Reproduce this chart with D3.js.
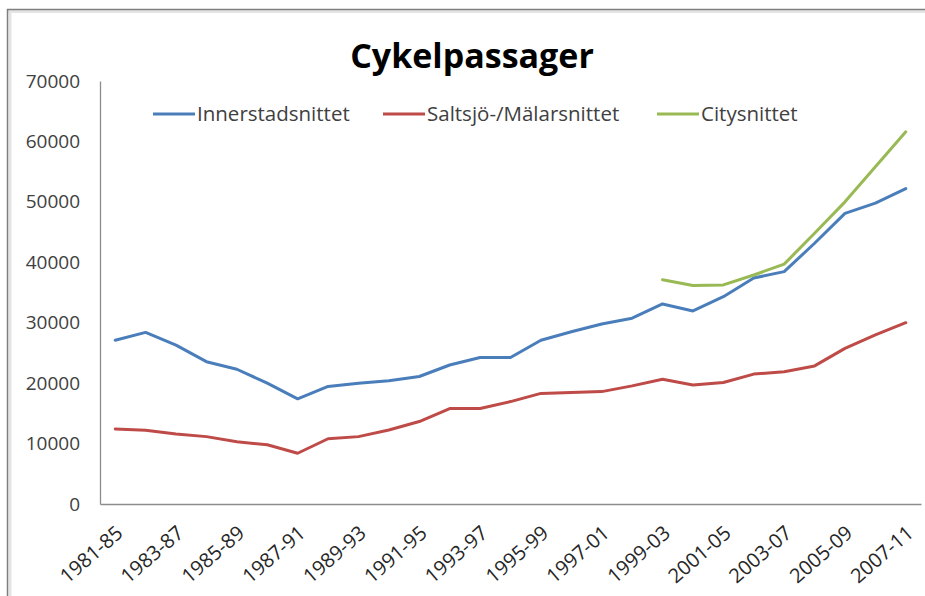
<!DOCTYPE html>
<html>
<head>
<meta charset="utf-8">
<script src="https://cdn.jsdelivr.net/npm/d3@7"></script>
<style>
html,body{margin:0;padding:0;background:#fff;}
svg{display:block;}
</style>
</head>
<body>
<svg id="chart" width="925" height="596"></svg>
<script>
const categories = ["1981-85","1982-86","1983-87","1984-88","1985-89","1986-90","1987-91","1988-92","1989-93","1990-94","1991-95","1992-96","1993-97","1994-98","1995-99","1996-00","1997-01","1998-02","1999-03","2000-04","2001-05","2002-06","2003-07","2004-08","2005-09","2006-10","2007-11"];
const innerstad = [27100,28400,26300,23550,22300,20000,17400,19450,20000,20400,21100,23000,24250,24250,27100,28500,29800,30750,33100,31950,34300,37400,38450,43150,48100,49800,52200];
const saltsjo = [12400,12200,11600,11150,10300,9800,8400,10800,11150,12250,13650,15800,15800,16950,18300,18450,18600,19550,20650,19700,20100,21500,21900,22850,25750,28000,30000];
const city = [null,null,null,null,null,null,null,null,null,null,null,null,null,null,null,null,null,null,37100,36150,36250,37900,39700,44800,50000,55800,61600];
const seriesNames = ["Innerstadsnittet","Saltsjö-/Mälarsnittet","Citysnittet"];
const seriesColors = ["#4A7EBB","#BE4B48","#98B954"];
const yTicks = [0,10000,20000,30000,40000,50000,60000,70000];
const title = "Cykelpassager";

const svg = d3.select("#chart");
const W = 925, H = 596;
const font = "'Open Sans', sans-serif";

// frame
svg.append("rect").attr("x",0).attr("y",0).attr("width",W).attr("height",H).attr("fill","#fff");
svg.append("line").attr("x1",7).attr("x2",W).attr("y1",11.5).attr("y2",11.5).attr("stroke","#e4e4e4").attr("stroke-width",3);
svg.append("line").attr("x1",10).attr("x2",10).attr("y1",10).attr("y2",H).attr("stroke","#e4e4e4").attr("stroke-width",3);
svg.append("line").attr("x1",7).attr("x2",W).attr("y1",9.5).attr("y2",9.5).attr("stroke","#7f7f7f").attr("stroke-width",1.5);
svg.append("line").attr("x1",7.5).attr("x2",7.5).attr("y1",9).attr("y2",H).attr("stroke","#7f7f7f").attr("stroke-width",1.5);

const x = d3.scaleBand().domain(categories).range([100,921]);
const y = d3.scaleLinear().domain([0,70000]).range([504,81]);
const cx = d => x(d) + x.bandwidth()/2;

// title
svg.append("text").attr("x",472).attr("y",68).attr("text-anchor","middle")
  .attr("font-family",font).attr("font-weight","bold").attr("font-size",34).attr("fill","#000").text(title);

// y axis
const yAxis = svg.append("g").attr("transform","translate(100,0)")
  .call(d3.axisLeft(y).tickValues(yTicks).tickSize(0).tickPadding(20).tickFormat(d3.format("d")));
yAxis.select(".domain").attr("stroke","#8c8c8c").attr("stroke-width",1.3);
yAxis.selectAll("text").attr("font-family",font).attr("font-size",19).attr("fill","#404040");

// x axis
const xAxis = svg.append("g").attr("transform","translate(0,504)")
  .call(d3.axisBottom(x).tickValues(categories.filter((d,i)=>i%2===0)).tickSize(0).tickSizeOuter(0));
xAxis.select(".domain").attr("stroke","#8c8c8c").attr("stroke-width",1.3);
xAxis.selectAll("text").attr("font-family",font).attr("font-size",20).attr("fill","#262626")
  .attr("text-anchor","end").attr("dy",null).attr("y",0)
  .attr("transform","translate(9,31) rotate(-41)");

// lines
const data = [innerstad, saltsjo, city];
const line = d3.line().defined(d => d.v != null).x(d => cx(d.c)).y(d => y(d.v));
data.forEach((arr,i) => {
  svg.append("path")
    .datum(arr.map((v,j) => ({c:categories[j], v:v})))
    .attr("d", line).attr("fill","none").attr("stroke",seriesColors[i])
    .attr("stroke-width",3).attr("stroke-linejoin","round").attr("stroke-linecap","round");
});

// legend
const legendX = [153,383,657];
const lg = svg.append("g");
seriesNames.forEach((n,i) => {
  lg.append("line").attr("x1",legendX[i]).attr("x2",legendX[i]+42).attr("y1",114).attr("y2",114)
    .attr("stroke",seriesColors[i]).attr("stroke-width",3);
  lg.append("text").attr("x",legendX[i]+44).attr("y",114).attr("dy","0.35em")
    .attr("font-family",font).attr("font-size",20.5).attr("fill","#404040").text(n);
});
</script>
</body>
</html>
